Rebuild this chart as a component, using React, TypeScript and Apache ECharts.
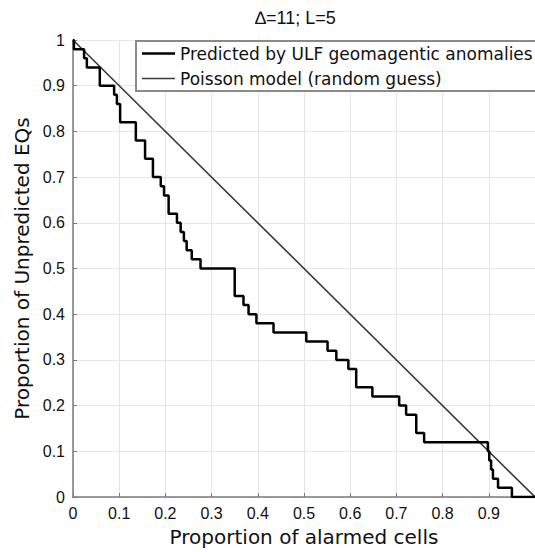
import React, { useEffect, useRef } from "react";
import * as echarts from "echarts";

const title = "∆=11; L=5";
const xAxisName = "Proportion of alarmed cells";
const yAxisName = "Proportion of Unpredicted EQs";
const seriesNames = ["Predicted by ULF geomagentic anomalies", "Poisson model (random guess)"];

// Step curve: proportion of alarmed cells where the unpredicted fraction drops, and the new value
const alarmed = [
  0, 0.002, 0.024, 0.03, 0.058, 0.089, 0.095, 0.102, 0.136, 0.156, 0.173, 0.19, 0.197, 0.207,
  0.225, 0.233, 0.24, 0.246, 0.257, 0.276, 0.35, 0.369, 0.38, 0.397, 0.434, 0.505, 0.551, 0.57,
  0.596, 0.613, 0.648, 0.706, 0.721, 0.743, 0.76, 0.898, 0.901, 0.905, 0.909, 0.92, 0.95, 1.0,
];
const unpredicted = [
  1.0, 0.98, 0.96, 0.94, 0.9, 0.88, 0.86, 0.82, 0.78, 0.74, 0.7, 0.68, 0.66, 0.62,
  0.6, 0.58, 0.56, 0.54, 0.52, 0.5, 0.44, 0.42, 0.4, 0.38, 0.36, 0.34, 0.32, 0.3,
  0.28, 0.24, 0.22, 0.2, 0.18, 0.14, 0.12, 0.1, 0.08, 0.06, 0.04, 0.02, 0.0, 0.0,
];

const poissonX = [0, 1];
const poissonY = [1, 0];

const ticks = [0, 0.1, 0.2, 0.3, 0.4, 0.5, 0.6, 0.7, 0.8, 0.9, 1];

export default function App() {
  const ref = useRef<HTMLDivElement>(null);
  useEffect(() => {
    if (!ref.current) return;
    const chart = echarts.init(ref.current, null, { renderer: "svg" });
    const fmt = (v: number) => {
      const t = ticks.find((k) => Math.abs(k - v) < 1e-6);
      const val = t === undefined ? v : t;
      return val === 0 ? "0" : val === 1 ? "1" : String(Math.round(val * 10) / 10);
    };
    const axisCommon = {
      type: "value" as const,
      min: 0,
      max: 1,
      interval: 0.1,
      axisLine: { show: true, lineStyle: { color: "#7a7a7a", width: 1.5 } },
      axisTick: { show: true, inside: true, length: 4, lineStyle: { color: "#7a7a7a" } },
      splitLine: { show: true, lineStyle: { color: "#e6e6e6", width: 1 } },
      axisLabel: {
        color: "#111",
        fontSize: 16,
        fontFamily: "Liberation Sans, Arial, sans-serif",
        formatter: fmt,
      },
      nameLocation: "middle" as const,
      nameTextStyle: { color: "#111", fontSize: 20, fontFamily: "DejaVu Sans, sans-serif" },
    };
    chart.setOption({
      animation: false,
      backgroundColor: "#fff",
      title: {
        text: title,
        left: 250,
        top: 4,
        textStyle: { fontSize: 18, fontWeight: "normal", color: "#111", fontFamily: "Liberation Sans, Arial, sans-serif" },
      },
      grid: { left: 73, top: 40, width: 463, height: 460, containLabel: false },
      xAxis: {
        ...axisCommon,
        name: xAxisName,
        nameGap: 30,
        axisLabel: { ...axisCommon.axisLabel, margin: 8, showMaxLabel: false },
      },
      yAxis: {
        ...axisCommon,
        name: yAxisName,
        nameGap: 40,
        axisLabel: { ...axisCommon.axisLabel, margin: 8 },
      },
      legend: {
        left: 136,
        top: 41,
        orient: "vertical",
        backgroundColor: "#fff",
        borderColor: "#8a8a8a",
        borderWidth: 2,
        borderRadius: 0,
        padding: [4, 14, 4, 6],
        itemWidth: 33,
        itemHeight: 10,
        itemGap: 8,
        textStyle: { fontSize: 17, color: "#111", fontFamily: "DejaVu Sans, sans-serif" },
        data: [
          { name: seriesNames[0], icon: "path://M0,0h33v2.6h-33z" },
          { name: seriesNames[1], icon: "path://M0,0h33v1.6h-33z" },
        ],
      },
      series: [
        {
          name: seriesNames[0],
          type: "line",
          step: "end",
          symbol: "none",
          lineStyle: { color: "#000", width: 2.5 },
          itemStyle: { color: "#000" },
          data: alarmed.map((x, i) => [x, unpredicted[i]]),
          z: 3,
        },
        {
          name: seriesNames[1],
          type: "line",
          symbol: "none",
          lineStyle: { color: "#3a3a3a", width: 1.6 },
          itemStyle: { color: "#3a3a3a" },
          data: poissonX.map((x, i) => [x, poissonY[i]]),
          z: 2,
        },
      ],
    });
    return () => chart.dispose();
  }, []);
  return <div ref={ref} style={{ position: "fixed", left: 0, top: 0, width: 535, height: 552 }} />;
}
